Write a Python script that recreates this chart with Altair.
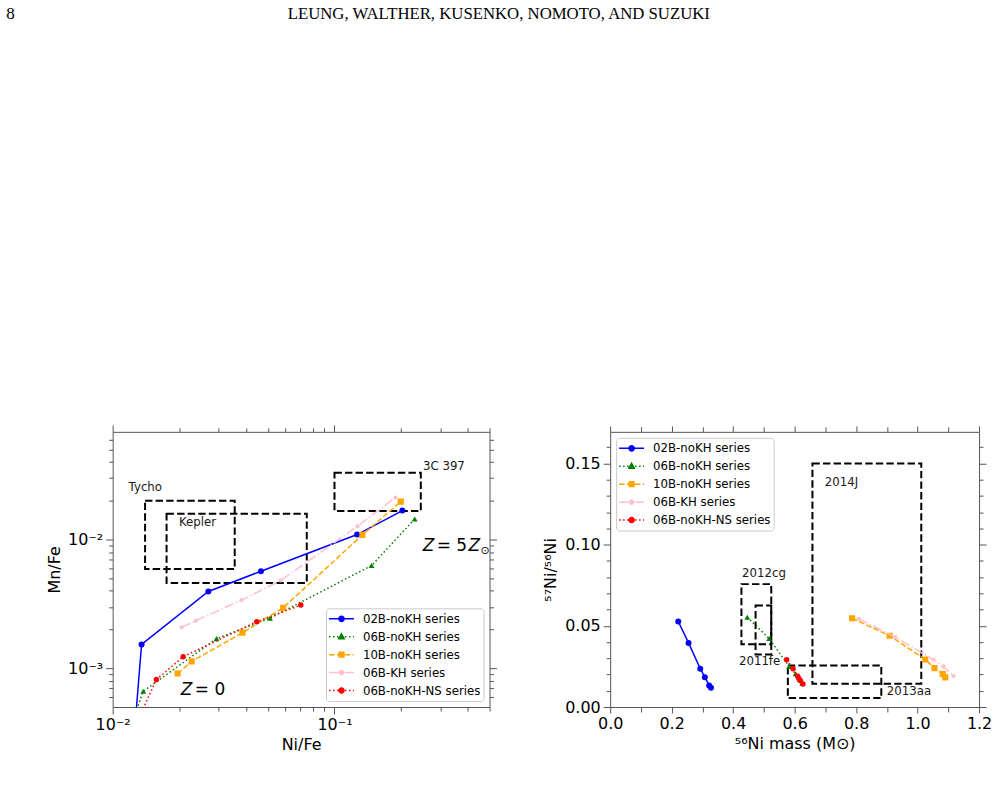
import math
import altair as alt
import pandas as pd

# ---------------- text ----------------
PAGE_NUMBER = ["8"]
RUNNING_HEAD = ["LEUNG, WALTHER, KUSENKO, NOMOTO, AND SUZUKI"]

SERIES = ["02B-noKH series", "06B-noKH series", "10B-noKH series",
          "06B-KH series", "06B-noKH-NS series"]
COLORS = ["#0000ff", "#008000", "#ffa500", "#ffc0cb", "#ff0000"]

# ---------------- left panel: Mn/Fe vs Ni/Fe ----------------
L_02B_X = [0.0124, 0.0135, 0.0270, 0.0466, 0.1265, 0.2023]
L_02B_Y = [0.00025, 0.00153, 0.00395, 0.00567, 0.01094, 0.0168]
L_06B_X = [0.0118, 0.01374, 0.0294, 0.0512, 0.147, 0.230]
L_06B_Y = [0.00032, 0.000663, 0.0017, 0.00245, 0.00628, 0.01445]
L_10B_X = [0.01963, 0.0227, 0.0385, 0.0587, 0.1336, 0.199]
L_10B_Y = [0.00091, 0.00113, 0.00189, 0.00295, 0.01087, 0.0197]
L_KH_X = [0.02047, 0.0237, 0.0381, 0.0573, 0.127, 0.188]
L_KH_Y = [0.00208, 0.00234, 0.00339, 0.00481, 0.01268, 0.0212]
L_NS_X = [0.0126, 0.01574, 0.0208, 0.0446, 0.0705]
L_NS_Y = [0.00035, 0.000817, 0.00123, 0.0023, 0.0031]

L_BOX_X1 = [0.0140, 0.0175, 0.100]
L_BOX_X2 = [0.0355, 0.0750, 0.245]
L_BOX_Y1 = [0.0059, 0.0046, 0.0167]
L_BOX_Y2 = [0.0200, 0.0159, 0.0330]
L_LABELS = ["Tycho", "Kepler", "3C 397"]
L_LABEL_X = [0.0118, 0.0199, 0.2506]
L_LABEL_Y = [0.0258, 0.0138, 0.0373]

Z0_ANCHOR = (0.0203, 0.000673)
Z5_ANCHOR = (0.250, 0.00887)

L_X_DOMAIN = [0.01, 0.5]
L_Y_DOMAIN = [0.0005, 0.0687]
L_X_MAJOR = [0.01, 0.1]
L_X_MAJOR_LABELS = ["10⁻²", "10⁻¹"]
L_X_MINOR = [0.02, 0.03, 0.04, 0.05, 0.06, 0.07, 0.08, 0.09, 0.2, 0.3, 0.4, 0.5]
L_Y_MAJOR = [0.001, 0.01]
L_Y_MAJOR_LABELS = ["10⁻³", "10⁻²"]
L_Y_MINOR = [0.0006, 0.0007, 0.0008, 0.0009, 0.002, 0.003, 0.004, 0.005,
             0.006, 0.007, 0.008, 0.009, 0.02, 0.03, 0.04, 0.05, 0.06]

# ---------------- right panel: 57Ni/56Ni vs 56Ni mass ----------------
R_02B_X = [0.2215, 0.255, 0.293, 0.308, 0.322, 0.328]
R_02B_Y = [0.0527, 0.0395, 0.0236, 0.0184, 0.0133, 0.0119]
R_06B_X = [0.446, 0.517, 0.582, 0.603, 0.617, 0.625]
R_06B_Y = [0.0553, 0.0422, 0.0250, 0.0205, 0.0170, 0.0145]
R_10B_X = [0.787, 0.909, 1.025, 1.055, 1.082, 1.090]
R_10B_Y = [0.0547, 0.0439, 0.0293, 0.0240, 0.0203, 0.0183]
R_KH_X = [0.809, 0.928, 1.052, 1.084, 1.117]
R_KH_Y = [0.0543, 0.0430, 0.0291, 0.0250, 0.0191]
R_NS_X = [0.574, 0.595, 0.610, 0.614, 0.619, 0.627]
R_NS_Y = [0.0291, 0.0236, 0.0190, 0.0175, 0.0162, 0.0142]

R_BOX_X1 = [0.658, 0.578, 0.427, 0.473]
R_BOX_X2 = [1.012, 0.882, 0.524, 0.524]
R_BOX_Y1 = [0.0143, 0.0055, 0.0387, 0.0324]
R_BOX_Y2 = [0.150, 0.0256, 0.0757, 0.0625]
R_LABELS = ["2014J", "2013aa", "2012cg", "2011fe"]
R_LABEL_X = [0.698, 0.900, 0.429, 0.419]
R_LABEL_Y = [0.1384, 0.0098, 0.0824, 0.0281]

R_X_DOMAIN = [0.0, 1.2]
R_Y_DOMAIN = [0.0, 0.1695]
R_X_MAJOR = [0.0, 0.2, 0.4, 0.6, 0.8, 1.0, 1.2]
R_X_MINOR = [0.1, 0.3, 0.5, 0.7, 0.9, 1.1]
R_Y_MAJOR = [0.0, 0.05, 0.10, 0.15]
R_Y_MINOR = [0.01, 0.02, 0.03, 0.04, 0.06, 0.07, 0.08, 0.09,
             0.11, 0.12, 0.13, 0.14, 0.16]

# ---------------- styles ----------------
FONT = "DejaVu Sans"
AX = "#555555"
DASHES = [None, [1.5, 2.5], [5.5, 2.4], [9.6, 2.4, 1.5, 2.4], [1.5, 2.5]]
SHAPES = ["circle", "triangle-up", "square", "circle", "circle"]
SIZES = [36, 34, 38, 18, 30]
MARKER_R_PX = [2.6, 2.9, 2.4, 2.0, 2.5]
LEG_SIZE = 169


def legend_path(dash, shape, mr):
    R = math.sqrt(LEG_SIZE) / 2.0
    C = 7.5
    u = lambda px: (px - C) / R
    length = 25.0
    segs = []
    if dash is None:
        segs.append((0.0, length))
    else:
        pos, i = 0.0, 0
        while pos < length:
            seg = dash[i % len(dash)]
            if i % 2 == 0:
                segs.append((pos, min(pos + seg, length)))
            pos += seg
            i += 1
    parts = [f"M{u(a):.3f},0L{u(b):.3f},0" for a, b in segs]
    cx = u(12.5)
    r = mr / R
    if shape == "circle":
        pts = [(cx + r * math.cos(2 * math.pi * k / 16), r * math.sin(2 * math.pi * k / 16)) for k in range(16)]
        parts.append("M" + "L".join(f"{x:.3f},{y:.3f}" for x, y in pts) + "Z")
    elif shape == "triangle-up":
        parts.append(f"M{cx:.3f},{-r:.3f}L{cx + r * 0.95:.3f},{r * 0.7:.3f}L{cx - r * 0.95:.3f},{r * 0.7:.3f}Z")
    else:
        parts.append(f"M{cx - r:.3f},{-r:.3f}L{cx + r:.3f},{-r:.3f}L{cx + r:.3f},{r:.3f}L{cx - r:.3f},{r:.3f}Z")
    return "".join(parts)


LEG_PATHS = [legend_path(d, s, m) for d, s, m in zip(DASHES, SHAPES, MARKER_R_PX)]


def mk_axis(orient, values, size, labels=False, label_map=None, fmt=None, title=None, tpad=4):
    kw = dict(orient=orient, values=values, tickSize=size, tickColor=AX, tickWidth=1,
              domain=False, grid=False, labels=labels, ticks=True)
    if labels:
        kw.update(labelFont=FONT, labelFontSize=16, labelColor="black", labelPadding=3,
                  labelFlush=False, labelOverlap=False)
        if label_map:
            expr = "''"
            for v, t in label_map:
                expr = f"(abs(datum.value - {v}) < {v * 1e-3}) ? '{t}' : " + expr
            kw["labelExpr"] = expr
        if fmt:
            kw["format"] = fmt
    if title:
        kw.update(title=title, titleFont=FONT, titleFontSize=16, titleFontWeight="normal",
                  titleColor="black", titlePadding=tpad)
    else:
        kw["title"] = None
    return alt.Axis(**kw)


def make_panel(series_xy, boxes, labels, xsc, ysc, axes, legend_orient, legend_offset,
               extra_layers, width, height, dummy):
    X = lambda f: alt.X(f"{f}:Q", scale=xsc, axis=None)
    Y = lambda f: alt.Y(f"{f}:Q", scale=ysc, axis=None)
    layers = []
    bx1, bx2, by1, by2 = boxes
    bdf = pd.DataFrame({"x1": bx1, "x2": bx2, "y1": by1, "y2": by2})
    layers.append(alt.Chart(bdf).mark_rect(fill="transparent", stroke="black", strokeWidth=2,
                                           strokeDash=[7.4, 3.2]).encode(
        x=X("x1"), x2="x2:Q", y=Y("y1"), y2="y2:Q"))
    for name, color, dash, shape, size, (xs, ys) in zip(SERIES, COLORS, DASHES, SHAPES, SIZES, series_xy):
        df = pd.DataFrame({"x": xs, "y": ys, "idx": list(range(len(xs)))})
        lk = dict(color=color, strokeWidth=1.5, clip=True)
        if dash:
            lk["strokeDash"] = dash
        layers.append(alt.Chart(df).mark_line(**lk).encode(x=X("x"), y=Y("y"), order="idx:Q"))
        layers.append(alt.Chart(df).mark_point(filled=True, shape=shape, size=size, color=color,
                                               opacity=1, clip=True).encode(x=X("x"), y=Y("y")))
    names, lx, ly, fs = labels
    ldf = pd.DataFrame({"x": lx, "y": ly, "text": names})
    layers.append(alt.Chart(ldf).mark_text(align="left", baseline="middle", font=FONT, fontSize=fs,
                                           color="#1a1a1a").encode(x=X("x"), y=Y("y"), text="text:N"))
    for lyr in extra_layers:
        layers.append(lyr(X, Y))
    leg = alt.Legend(title=None, orient=legend_orient, offset=legend_offset, labelFont=FONT,
                     labelFontSize=11.8, labelColor="black", symbolSize=LEG_SIZE, symbolStrokeWidth=1.5,
                     labelOffset=19, rowPadding=3, padding=3, fillColor="rgba(255,255,255,0.85)",
                     strokeColor="#cccccc", cornerRadius=3, symbolOffset=0, labelLimit=300)
    legdf = pd.DataFrame({"series": SERIES})
    layers.append(alt.Chart(legdf).transform_filter("datum.series == '__none__'").mark_point(
        filled=True, opacity=1, size=LEG_SIZE, strokeWidth=1.5).encode(
        fill=alt.Fill("series:N", scale=alt.Scale(domain=SERIES, range=COLORS), legend=leg),
        stroke=alt.Stroke("series:N", scale=alt.Scale(domain=SERIES, range=COLORS), legend=leg),
        shape=alt.Shape("series:N", scale=alt.Scale(domain=SERIES, range=LEG_PATHS), legend=leg)))
    main = alt.layer(*layers)
    axis_layers = []
    for xa, ya in axes:
        axis_layers.append(alt.Chart(dummy).mark_point(opacity=0).encode(
            x=alt.X("x:Q", scale=xsc, axis=xa), y=alt.Y("y:Q", scale=ysc, axis=ya)))
    return alt.layer(main, *axis_layers).resolve_axis(x="independent", y="independent").properties(
        width=width, height=height)


# ---------------- left panel ----------------
lxsc = alt.Scale(type="log", domain=L_X_DOMAIN, nice=False)
lysc = alt.Scale(type="log", domain=L_Y_DOMAIN, nice=False)
left_axes = [
    (mk_axis("bottom", L_X_MAJOR, 7, labels=True, label_map=list(zip(L_X_MAJOR, L_X_MAJOR_LABELS)), title="Ni/Fe"),
     mk_axis("left", L_Y_MAJOR, 7, labels=True, label_map=list(zip(L_Y_MAJOR, L_Y_MAJOR_LABELS)), title="Mn/Fe", tpad=5)),
    (mk_axis("bottom", L_X_MINOR, 4), mk_axis("left", L_Y_MINOR, 4)),
    (mk_axis("top", L_X_MAJOR, 7), mk_axis("right", L_Y_MAJOR, 7)),
    (mk_axis("top", L_X_MINOR, 4), mk_axis("right", L_Y_MINOR, 4)),
]


def z_texts(X, Y):
    rows = [
        (Z0_ANCHOR, "Z", 0, 0, "italic", 17),
        (Z0_ANCHOR, "= 0", 14, 0, "normal", 17),
        (Z5_ANCHOR, "Z", 0, 0, "italic", 17),
        (Z5_ANCHOR, "= 5", 14, 0, "normal", 17),
        (Z5_ANCHOR, "Z", 46, 0, "italic", 17),
        (Z5_ANCHOR, "⊙", 58, 5, "normal", 11),
    ]
    charts = []
    for (ax, ay), t, dx, dy, st, fs in rows:
        df = pd.DataFrame({"x": [ax], "y": [ay], "text": [t]})
        charts.append(alt.Chart(df).mark_text(align="left", baseline="middle", font=FONT, fontSize=fs,
                                              fontStyle=st, dx=dx, dy=dy, color="black").encode(
            x=X("x"), y=Y("y"), text="text:N"))
    return alt.layer(*charts)


def header(X, Y):
    a = alt.Chart(pd.DataFrame({"text": PAGE_NUMBER})).mark_text(
        align="left", baseline="top", font="Liberation Serif", fontSize=17, color="black").encode(
        x=alt.value(-106.7), y=alt.value(-427), text="text:N")
    b = alt.Chart(pd.DataFrame({"text": RUNNING_HEAD})).mark_text(
        align="center", baseline="top", font="Liberation Serif", fontSize=16.8, color="black").encode(
        x=alt.value(387.3), y=alt.value(-427), text="text:N")
    return alt.layer(a, b)


left = make_panel(
    [(L_02B_X, L_02B_Y), (L_06B_X, L_06B_Y), (L_10B_X, L_10B_Y), (L_KH_X, L_KH_Y), (L_NS_X, L_NS_Y)],
    (L_BOX_X1, L_BOX_X2, L_BOX_Y1, L_BOX_Y2),
    (L_LABELS, L_LABEL_X, L_LABEL_Y, 11.8),
    lxsc, lysc, left_axes, "bottom-right", 6, [z_texts, header], 378, 276,
    pd.DataFrame({"x": [0.05], "y": [0.005]}))

# ---------------- right panel ----------------
rxsc = alt.Scale(type="linear", domain=R_X_DOMAIN, nice=False, zero=False)
rysc = alt.Scale(type="linear", domain=R_Y_DOMAIN, nice=False, zero=False)
right_axes = [
    (mk_axis("bottom", R_X_MAJOR, 6, labels=True, fmt=".1f", title="⁵⁶Ni mass (M⊙)"),
     mk_axis("left", R_Y_MAJOR, 7, labels=True, fmt=".2f", title="⁵⁷Ni/⁵⁶Ni", tpad=6)),
    (mk_axis("bottom", R_X_MINOR, 5), mk_axis("left", R_Y_MINOR, 4)),
    (mk_axis("top", R_X_MAJOR, 6), mk_axis("right", R_Y_MAJOR, 7)),
    (mk_axis("top", R_X_MINOR, 5), mk_axis("right", R_Y_MINOR, 4)),
]
right = make_panel(
    [(R_02B_X, R_02B_Y), (R_06B_X, R_06B_Y), (R_10B_X, R_10B_Y), (R_KH_X, R_KH_Y), (R_NS_X, R_NS_Y)],
    (R_BOX_X1, R_BOX_X2, R_BOX_Y1, R_BOX_Y2),
    (R_LABELS, R_LABEL_X, R_LABEL_Y, 11.8),
    rxsc, rysc, right_axes, "top-left", 5.5, [], 370, 276,
    pd.DataFrame({"x": [0.5], "y": [0.05]}))

chart = alt.hconcat(left, right, spacing=121, bounds="flush").resolve_scale(
    fill="independent", stroke="independent", shape="independent").resolve_legend(
    fill="independent", stroke="independent", shape="independent").properties(
    padding={"left": 5, "top": 3, "right": 5, "bottom": 5}, background="white").configure_view(
    stroke=AX, strokeWidth=1)

chart.save("out.html", embed_options={"renderer": "svg", "actions": False})
